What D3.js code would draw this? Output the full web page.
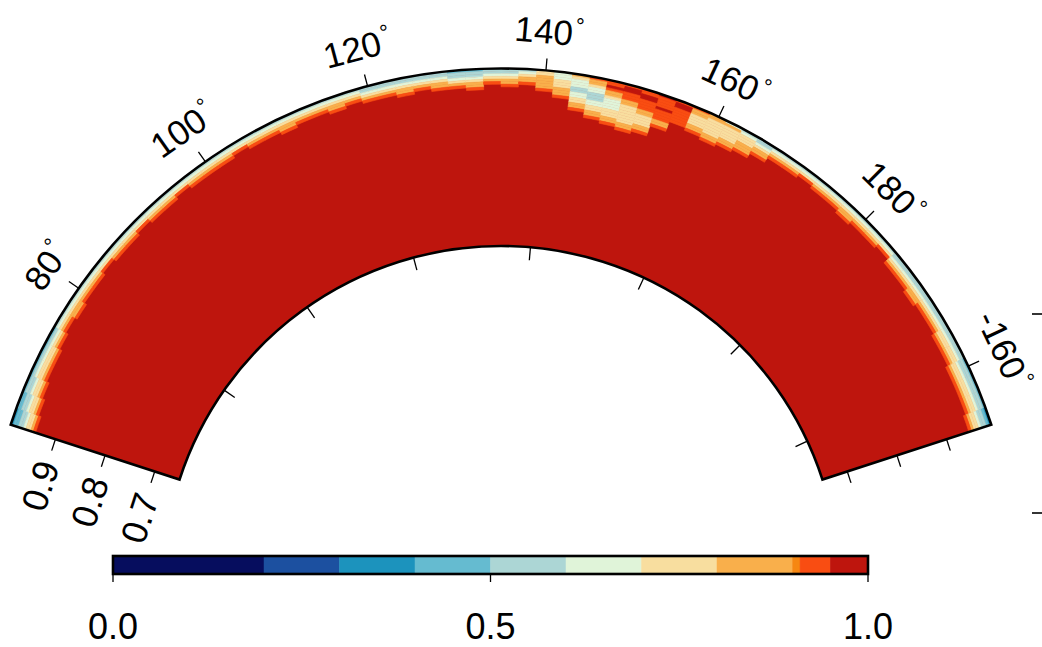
<!DOCTYPE html>
<html><head><meta charset="utf-8">
<script src="https://cdn.jsdelivr.net/npm/d3@7"></script>
<style>html,body{margin:0;padding:0;background:#fff;} svg{display:block;font-family:"Liberation Sans",Arial,Helvetica,sans-serif;}</style>
</head><body><svg id="c" width="1042" height="647"></svg>
<script>
// ---- data ----
const lonDomain = [63, 207];
const radiusDomain = [0.65, 0.99];
const lonTicks = [80, 100, 120, 140, 160, 180, 200];
const lonTickLabels = ["80", "100", "120", "140", "160", "180", "-160"];
const radiusTicks = [0.9, 0.8, 0.7];
const radiusTickLabels = ["0.9", "0.8", "0.7"];
const colorBreaks = [0, 0.2, 0.3, 0.4, 0.5, 0.6, 0.7, 0.8, 0.9, 0.91, 0.95, 1.0];
const colorHex = ["#060d5e","#1c50a0","#1c93bd","#65bbd0","#acd6d5","#e0f4d9","#f8de9f","#f9af4b","#f68712","#f94d12","#be150d"];
const colorbarTicks = [0, 0.5, 1.0];
const colorbarTickLabels = ["0.0", "0.5", "1.0"];
const lonBinStart = 63, lonBinWidth = 2, layerThickness = 0.005, interiorValue = 0.98;
// code -> value (colour class)
const codeValues = {"3":0.35,"4":0.45,"5":0.55,"6":0.65,"7":0.75,"8":0.85,"9":0.905,"o":0.93,"R":0.98};
// per 2-degree longitude bin: values of successive 0.005 layers from the outer surface inward
const surfaceProfiles = [
 "344556778o","44556778o","4556778o","456778o","456778o","45678o","5678o","56788o",
 "5678o","5678o","567o","5678o","5678o","567o","5678o","5678o",
 "567o","5678o","5678o","5678o","567o","5678o","5678o","56788o",
 "5678o","5678o","56788o","5678o","55678o","55678o","556788o","55678o",
 "556788o","455678o","4556788o","55678o","556788o","56788o","7788888o","666777888o",
 "8766655667788o","o88766555667788o","ooRo887666677788o","oRRooo88777777788o","ooRRoooo88777788o","RooooRoooo88o","oRRoooooo","o88777788o",
 "8877777788o","687777788o","56777888o","556788o","5678o","5678o","567o","5678o",
 "5678o","56788o","5678o","5678o","567o","55678o","55678o","556788o",
 "55678o","55678o","556778o","556778o","4556778o","4556778o","4556778o","34556778o"
];

// ---- layout ----
const cx = 501, cy = 584, rIn = 338, rOut = 515.5;
const svg = d3.select("#c");
const deg = Math.PI / 180;
const angle = d3.scaleLinear().domain(lonDomain).range([-72 * deg, 72 * deg]);
const radius = d3.scaleLinear().domain(radiusDomain).range([rIn, rOut]);
const color = d3.scaleThreshold().domain(colorBreaks.slice(1, -1)).range(colorHex);
const arc = d3.arc();

const g = svg.append("g").attr("transform", `translate(${cx},${cy})`);

// interior background
g.append("path")
  .attr("d", arc({innerRadius: radius(radiusDomain[0]), outerRadius: radius(radiusDomain[1]),
                  startAngle: angle(lonDomain[0]), endAngle: angle(lonDomain[1])}))
  .attr("fill", color(interiorValue));

// cells
const cells = [];
surfaceProfiles.forEach((prof, k) => {
  const l0 = lonBinStart + k * lonBinWidth, l1 = l0 + lonBinWidth;
  prof.split("").forEach((ch, i) => {
    const v = codeValues[ch];
    const rTop = radiusDomain[1] - i * layerThickness;
    cells.push({l0, l1, r0: rTop - layerThickness, r1: rTop, v});
  });
});
g.append("g").selectAll("path").data(cells).join("path")
  .attr("d", d => arc({innerRadius: radius(d.r0), outerRadius: radius(d.r1),
                       startAngle: angle(d.l0), endAngle: angle(d.l1)}))
  .attr("fill", d => color(d.v))
  .attr("stroke", d => color(d.v))
  .attr("stroke-width", 0.6);

// outline
g.append("path")
  .attr("d", arc({innerRadius: radius(radiusDomain[0]), outerRadius: radius(radiusDomain[1]),
                  startAngle: angle(lonDomain[0]), endAngle: angle(lonDomain[1])}))
  .attr("fill", "none").attr("stroke", "#000").attr("stroke-width", 2.6)
  .attr("stroke-linejoin", "miter");

const pt = (rho, th) => [rho * Math.sin(th), -rho * Math.cos(th)];

// longitude ticks (outer outward, inner inward)
lonTicks.forEach((lon, j) => {
  const th = angle(lon);
  const a = pt(rOut, th), b = pt(rOut + 12, th);
  g.append("line").attr("x1", a[0]).attr("y1", a[1]).attr("x2", b[0]).attr("y2", b[1])
    .attr("stroke", "#000").attr("stroke-width", 1.3);
  const c = pt(rIn, th), d = pt(rIn - 13, th);
  g.append("line").attr("x1", c[0]).attr("y1", c[1]).attr("x2", d[0]).attr("y2", d[1])
    .attr("stroke", "#000").attr("stroke-width", 1.3);
  const p = pt(rOut + 27, th);
  const t = g.append("text")
    .attr("x", p[0]).attr("y", p[1])
    .attr("transform", `rotate(${th / deg},${p[0]},${p[1]})`)
    .attr("text-anchor", "middle")
    .attr("font-size", 35).attr("fill", "#000")
    .text(lonTickLabels[j]);
  t.append("tspan").attr("font-size", 22).attr("dx", 2).attr("dy", -13).text("°");
});

// radial ticks on both straight edges
[lonDomain[0], lonDomain[1]].forEach((lon, side) => {
  const th = angle(lon);
  const out = side === 0 ? [-Math.cos(th), -Math.sin(th)] : [Math.cos(th), Math.sin(th)];
  radiusTicks.forEach((r, j) => {
    const p = pt(radius(r), th);
    g.append("line").attr("x1", p[0]).attr("y1", p[1])
      .attr("x2", p[0] + out[0] * 12).attr("y2", p[1] + out[1] * 12)
      .attr("stroke", "#000").attr("stroke-width", 1.3);
    if (side === 0) {
      const q = [p[0] + out[0] * 24, p[1] + out[1] * 24];
      g.append("text").attr("x", q[0]).attr("y", q[1])
        .attr("transform", `rotate(${th / deg},${q[0]},${q[1]})`)
        .attr("text-anchor", "end").attr("dominant-baseline", "central")
        .attr("font-size", 36).attr("fill", "#000")
        .text(radiusTickLabels[j]);
    }
  });
});

// stray frame ticks at the right border
[314, 513].forEach(y => {
  svg.append("line").attr("x1", 1032).attr("x2", 1042).attr("y1", y).attr("y2", y)
    .attr("stroke", "#000").attr("stroke-width", 1.6);
});

// colorbar
const cb = {x0: 113, x1: 868, y0: 556, y1: 574};
const cbx = d3.scaleLinear().domain([0, 1]).range([cb.x0, cb.x1]);
const cbg = svg.append("g");
cbg.selectAll("rect.bin").data(colorHex).join("rect").attr("class", "bin")
  .attr("x", (d, i) => cbx(colorBreaks[i]))
  .attr("width", (d, i) => cbx(colorBreaks[i + 1]) - cbx(colorBreaks[i]))
  .attr("y", cb.y0).attr("height", cb.y1 - cb.y0)
  .attr("fill", d => d).attr("stroke", d => d).attr("stroke-width", 0.5);
cbg.append("rect").attr("x", cb.x0).attr("y", cb.y0).attr("width", cb.x1 - cb.x0).attr("height", cb.y1 - cb.y0)
  .attr("fill", "none").attr("stroke", "#000").attr("stroke-width", 2.6);
colorbarTicks.forEach((v, j) => {
  cbg.append("line").attr("x1", cbx(v)).attr("x2", cbx(v)).attr("y1", cb.y1).attr("y2", cb.y1 + 8)
    .attr("stroke", "#000").attr("stroke-width", 1.3);
  cbg.append("text").attr("x", cbx(v)).attr("y", 639).attr("text-anchor", "middle")
    .attr("font-size", 36).attr("fill", "#000").text(colorbarTickLabels[j]);
});
</script></body></html>
